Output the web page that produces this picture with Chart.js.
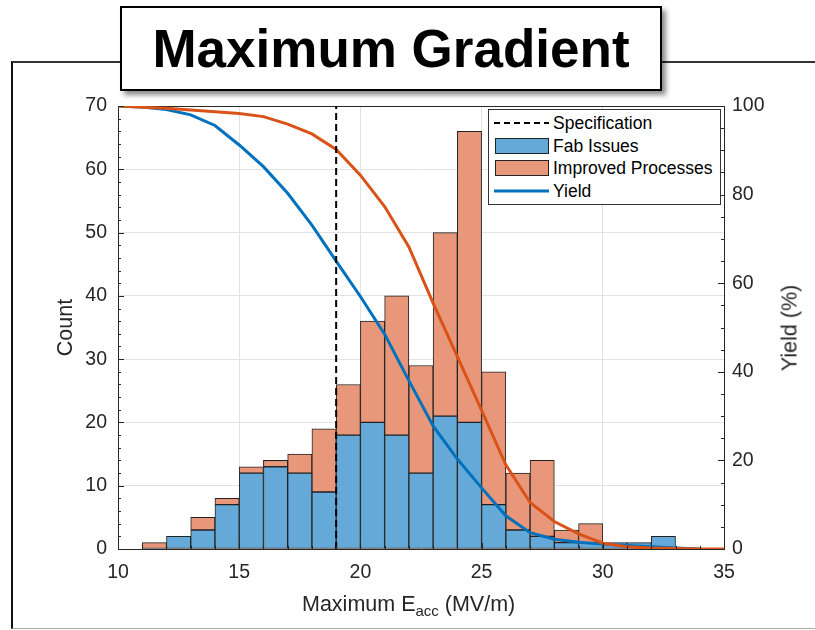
<!DOCTYPE html>
<html>
<head>
<meta charset="utf-8">
<script src="https://cdn.jsdelivr.net/npm/chart.js"></script>
<style>
  body { margin: 0; background: #fff; font-family: "Liberation Sans", Arial, Helvetica, sans-serif; }
  #wrap { position: relative; width: 815px; height: 630px; overflow: hidden; }
  #frame { position: absolute; left: 11px; top: 61px; width: 900px; height: 565px;
           border-top: 2px solid #333; border-left: 2px solid #111; border-bottom: 1px solid #aaa; }
  #chart { position: absolute; left: 0; top: 0; }
  #titlebox { position: absolute; left: 120px; top: 6px; width: 542px; height: 85px; box-sizing: border-box;
              border: 2px solid #000; background: #fff; box-shadow: 4px 4px 5px rgba(0,0,0,0.45); }
  #title { position: absolute; left: 120px; top: 18.7px; width: 542px; text-align: center;
           font-size: 53px; font-weight: bold; line-height: 1.117; color: #000; }
  #xlabel { position: absolute; left: 302px; top: 591.5px; font-size: 21.5px; line-height: 24px;
            color: #262626; white-space: nowrap; }
  #xlabel span { font-size: 15px; position: relative; top: 5px; }
  #ylabel2 { position: absolute; left: 790px; top: 327.5px; font-size: 21.5px; color: #262626;
             white-space: nowrap; transform: translate(-50%, -50%) rotate(-90deg); }
  #legend { position: absolute; left: 488px; top: 109px; width: 233px; height: 96px; box-sizing: border-box;
            border: 1px solid #333; background: #fff; padding-top: 2px; font-size: 17.5px; color: #000; }
  .row { position: relative; height: 22.5px; line-height: 22.5px; padding-left: 64px; white-space: nowrap; }
  .swatch { position: absolute; left: 5px; top: 50%; width: 55px; transform: translateY(-50%); box-sizing: border-box; }
</style>
</head>
<body>
<div id="wrap">
  <div id="frame"></div>
  <canvas id="chart" width="815" height="630"></canvas>
  <div id="titlebox"></div>
  <div id="title">Maximum Gradient</div>
  <div id="xlabel">Maximum E<span>acc</span> (MV/m)</div>
  <div id="ylabel2">Yield (%)</div>
  <div id="legend"></div>
</div>
<script>
// histogram bins (left edge, MV/m), width 1
const binLeft = [11, 12, 13, 14, 15, 16, 17, 18, 19, 20, 21, 22, 23, 24, 25, 26, 27, 28, 29, 30, 31, 32];
const binWidth = 1;
const fabIssues = [0, 2, 3, 7, 12, 13, 12, 9, 18, 20, 18, 12, 21, 20, 7, 3, 2, 1, 1, 1, 1, 2];
const improvedProc = [1, 0, 2, 1, 1, 1, 3, 10, 8, 16, 22, 17, 29, 46, 21, 9, 12, 2, 3, 0, 0, 0];

// yield curves (%)
const yieldE = [10, 11, 12, 13, 14, 15, 16, 17, 18, 19, 20, 21, 22, 23, 24, 25, 26, 27, 28, 29, 30, 31, 32, 33, 34, 35];
const yieldFab = [100, 99.8, 99.2, 98.0, 95.6, 91.2, 86.3, 80.3, 73.1, 65.0, 57.0, 48.5, 38.0, 27.8, 20.3, 13.8, 7.5, 3.7, 2.2, 1.5, 1.1, 0.8, 0.5, 0.2, 0, null];
const yieldImproved = [100, 99.7, 99.5, 99.1, 98.7, 98.3, 97.6, 95.9, 93.7, 90.2, 84.4, 77.3, 68.2, 55.5, 43.4, 31.3, 19.0, 10.5, 6.2, 3.4, 1.3, 0.5, 0.2, 0.1, 0, 0];

const specE = 19;
const countTicks = [0, 10, 20, 30, 40, 50, 60, 70];
const yieldTicks = [0, 20, 40, 60, 80, 100];
const eTicks = [10, 15, 20, 25, 30, 35];

const blue = '#0072BD', orange = '#D95319';
const tickColor = '#262626';
const fontFamily = '"Liberation Sans", Arial, Helvetica, sans-serif';
Chart.defaults.font.family = fontFamily;

function pts(xs, ys) {
    return xs.map(function(x, i) { return {x: x, y: ys[i]}; });
}
function binPts(vals) {
    return binLeft.map(function(b, i) { return {x: b + binWidth / 2, y: vals[i]}; });
}

// inside ticks like matlab + top edge of the box
const matlabAxes = {
    id: 'matlabAxes',
    beforeDatasetsDraw(chart) {
        const {ctx, chartArea: a} = chart;
        ctx.save();
        ctx.strokeStyle = tickColor;
        ctx.lineWidth = 1;
        ctx.beginPath();
        ctx.moveTo(a.left, Math.round(a.top) + 0.5);
        ctx.lineTo(a.right, Math.round(a.top) + 0.5);
        ctx.stroke();
        ctx.restore();
    },
    afterDatasetsDraw(chart) {
        const {ctx, chartArea: a, scales} = chart;
        ctx.save();
        ctx.strokeStyle = tickColor;
        ctx.lineWidth = 1;
        ctx.beginPath();
        for (let v = countTicks[0]; v <= countTicks[countTicks.length - 1]; v += 2) {
            const y = Math.round(scales.y.getPixelForValue(v)) + 0.5;
            const len = v % 10 === 0 ? 6 : 3;
            ctx.moveTo(a.left, y); ctx.lineTo(a.left + len, y);
        }
        for (let v = yieldTicks[0]; v <= yieldTicks[yieldTicks.length - 1]; v += 5) {
            const y = Math.round(scales.y1.getPixelForValue(v)) + 0.5;
            const len = v % 20 === 0 ? 6 : 3;
            ctx.moveTo(a.right, y); ctx.lineTo(a.right - len, y);
        }
        for (let v = eTicks[0]; v <= eTicks[eTicks.length - 1]; v += 1) {
            const x = Math.round(scales.x.getPixelForValue(v)) + 0.5;
            const len = v % 5 === 0 ? 6 : 3;
            ctx.moveTo(x, a.bottom); ctx.lineTo(x, a.bottom - len);
        }
        ctx.stroke();
        ctx.restore();
    }
};

const chart = new Chart(document.getElementById('chart'), {
    data: {
        datasets: [
            {
                type: 'line', label: 'Specification',
                data: pts([specE, specE], [countTicks[0], countTicks[countTicks.length - 1]]),
                yAxisID: 'y', stack: 'spec',
                borderColor: '#000', borderWidth: 2, borderDash: [7, 4],
                pointRadius: 0, order: 0
            },
            {
                type: 'bar', label: 'Fab Issues',
                data: binPts(fabIssues), yAxisID: 'y', stack: 'hist',
                backgroundColor: '#64a9d7', borderColor: '#222', borderWidth: 1, borderSkipped: false,
                barPercentage: 1, categoryPercentage: 1, order: 3
            },
            {
                type: 'bar', label: 'Improved Processes',
                data: binPts(improvedProc), yAxisID: 'y', stack: 'hist',
                backgroundColor: '#e8977a', borderColor: '#222', borderWidth: 1, borderSkipped: false,
                barPercentage: 1, categoryPercentage: 1, order: 4
            },
            {
                type: 'line', label: 'Yield',
                data: pts(yieldE, yieldFab), yAxisID: 'y1',
                borderColor: blue, borderWidth: 3, pointRadius: 0, tension: 0, order: 2
            },
            {
                type: 'line', label: '',
                data: pts(yieldE, yieldImproved), yAxisID: 'y1',
                borderColor: orange, borderWidth: 3, pointRadius: 0, tension: 0, order: 1
            }
        ]
    },
    options: {
        responsive: false,
        animation: false,
        layout: { padding: { top: 106 } },
        plugins: { legend: { display: false }, tooltip: { enabled: false } },
        scales: {
            x: {
                type: 'linear', min: 10, max: 35, stacked: true, offset: false,
                afterBuildTicks: function(s) { s.ticks = eTicks.map(function(v) { return {value: v}; }); },
                afterFit: function(s) { s.height = 81; },
                ticks: { color: tickColor, font: { size: 19.5 }, padding: 12, maxRotation: 0 },
                grid: { color: '#e2e2e2', drawTicks: false, offset: false },
                border: { color: tickColor }
            },
            y: {
                position: 'left', min: 0, max: 70, stacked: true,
                afterBuildTicks: function(s) { s.ticks = countTicks.map(function(v) { return {value: v}; }); },
                afterFit: function(s) { s.width = 118; },
                ticks: { color: tickColor, font: { size: 19.5 }, padding: 11 },
                grid: { color: '#e2e2e2', drawTicks: false },
                border: { color: tickColor },
                title: { display: true, text: 'Count', color: tickColor, font: { size: 21.5 }, padding: { top: 53 } }
            },
            y1: {
                position: 'right', min: 0, max: 100,
                afterBuildTicks: function(s) { s.ticks = yieldTicks.map(function(v) { return {value: v}; }); },
                afterFit: function(s) { s.width = 91; },
                ticks: { color: tickColor, font: { size: 19.5 }, padding: 8 },
                grid: { drawOnChartArea: false, drawTicks: false },
                border: { color: tickColor }
            }
        }
    },
    plugins: [matlabAxes]
});

// legend like matlab's, built from the datasets
function buildLegend(chart) {
    const box = document.getElementById('legend');
    chart.data.datasets.forEach(function(ds) {
        if (!ds.label) return;
        const row = document.createElement('div');
        row.className = 'row';
        const sw = document.createElement('span');
        sw.className = 'swatch';
        if (ds.type === 'bar') {
            sw.style.left = '6px';
            sw.style.width = '54px';
            sw.style.height = '16px';
            sw.style.background = ds.backgroundColor;
            sw.style.border = '1px solid ' + ds.borderColor;
        } else if (ds.borderDash) {
            sw.style.height = ds.borderWidth + 'px';
            sw.style.background = 'repeating-linear-gradient(90deg, ' + ds.borderColor + ' 0 6px, transparent 6px 10px)';
        } else {
            sw.style.height = ds.borderWidth + 'px';
            sw.style.background = ds.borderColor;
        }
        row.appendChild(sw);
        row.appendChild(document.createTextNode(ds.label));
        box.appendChild(row);
    });
}
buildLegend(chart);
</script>
</body>
</html>
